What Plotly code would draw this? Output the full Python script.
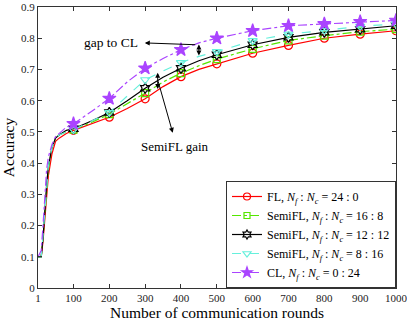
import plotly.graph_objects as go

# rounds at which values were read
rounds = [1, 10, 15, 20, 25, 30, 40, 50, 60, 80, 100, 150, 200, 250, 300,
          350, 400, 450, 500, 600, 700, 800, 900, 1000]

acc_fl = [0.1, 0.1, 0.15, 0.22, 0.30, 0.36, 0.43, 0.47, 0.48, 0.495, 0.505, 0.525,
          0.547, 0.575, 0.606, 0.645, 0.677, 0.70, 0.718, 0.752, 0.777, 0.800, 0.813, 0.824]
acc_semi_16_8 = [0.1, 0.1, 0.16, 0.24, 0.32, 0.38, 0.45, 0.48, 0.49, 0.50, 0.507, 0.53,
                 0.557, 0.59, 0.624, 0.66, 0.688, 0.712, 0.733, 0.766, 0.793, 0.808, 0.821, 0.829]
acc_semi_12_12 = [0.1, 0.1, 0.16, 0.25, 0.33, 0.39, 0.45, 0.48, 0.49, 0.505, 0.51, 0.535,
                  0.562, 0.60, 0.64, 0.675, 0.704, 0.728, 0.747, 0.779, 0.803, 0.819, 0.829, 0.840]
acc_semi_8_16 = [0.1, 0.1, 0.17, 0.25, 0.33, 0.39, 0.45, 0.48, 0.49, 0.50, 0.507, 0.535,
                 0.562, 0.615, 0.667, 0.695, 0.722, 0.742, 0.757, 0.792, 0.813, 0.825, 0.838, 0.846]
acc_cl = [0.1, 0.12, 0.20, 0.30, 0.38, 0.42, 0.46, 0.485, 0.495, 0.515, 0.526, 0.565,
          0.607, 0.66, 0.704, 0.735, 0.763, 0.785, 0.80, 0.824, 0.840, 0.846, 0.853, 0.857]

ratio = "<i>N<sub>f</sub></i>&nbsp;:&nbsp;<i>N<sub>c</sub></i>&nbsp;=&nbsp;"
names = ["FL, " + ratio + "24&nbsp;:&nbsp;0",
         "SemiFL, " + ratio + "16&nbsp;:&nbsp;8",
         "SemiFL, " + ratio + "12&nbsp;:&nbsp;12",
         "SemiFL, " + ratio + "8&nbsp;:&nbsp;16",
         "CL, " + ratio + "0&nbsp;:&nbsp;24"]

series = [acc_fl, acc_semi_16_8, acc_semi_12_12, acc_semi_8_16, acc_cl]
colors = ["#ff0000", "#55e600", "#000000", "#66f0dc", "#aa44ff"]
dashes = ["solid", "dashdot", "solid", "dash", "dashdot"]
symbols = ["circle-open", "square-open", "hexagram-open", "triangle-down-open", "star"]
msizes = [8, 7, 8, 8, 10]
leg_sizes = [7, 6, 7, 7, 8]

fig = go.Figure()
for ys, name, c, d, s, ms, ls in zip(series, names, colors, dashes, symbols, msizes, leg_sizes):
    fig.add_trace(go.Scatter(x=rounds, y=ys, mode="lines", showlegend=False,
                             line=dict(color=c, width=1.2, dash=d)))
    mx = [r for r in rounds if r % 100 == 0]
    my = [v for r, v in zip(rounds, ys) if r % 100 == 0]
    fig.add_trace(go.Scatter(x=mx, y=my, mode="markers", showlegend=False,
                             marker=dict(symbol=s, size=ms, color=c, line=dict(color=c, width=1.2))))
    # legend entry
    fig.add_trace(go.Scatter(x=[None], y=[None], mode="lines+markers", name=name,
                             line=dict(color=c, width=1.2, dash=d),
                             marker=dict(symbol=s, size=ls, color=c, line=dict(color=c, width=1.2))))

arrow = dict(xref="x", yref="y", axref="x", ayref="y", text="", showarrow=True,
             arrowhead=2, arrowsize=1, arrowwidth=1, arrowcolor="black")
fig.add_annotation(x=450, y=0.745, ax=450, ay=0.785, arrowside="end+start", **arrow)
fig.add_annotation(x=299, y=0.785, ax=444, ay=0.779, **arrow)
fig.add_annotation(x=335, y=0.637, ax=335, ay=0.694, arrowside="end+start", **arrow)
fig.add_annotation(x=377, y=0.497, ax=335, ay=0.667, **arrow)
fig.add_annotation(x=204, y=0.785, text="gap to CL", showarrow=False,
                   font=dict(size=13.5, color="black"))
fig.add_annotation(x=383, y=0.452, text="SemiFL gain", showarrow=False,
                   font=dict(size=13, color="black"))

axis = dict(showline=True, linecolor="#333333", linewidth=1, mirror="ticks",
            ticks="inside", ticklen=4, tickcolor="#333333", showgrid=False,
            zeroline=False, ticklabeloverflow="allow", automargin=False,
            tickfont=dict(size=11, color="#222222"))

fig.update_layout(
    width=407, height=321,
    margin=dict(l=38, r=11, t=7, b=33),
    paper_bgcolor="white", plot_bgcolor="white",
    font=dict(family="Liberation Serif", color="black", size=12),
    xaxis=dict(range=[1, 1000], tickvals=[1, 100, 200, 300, 400, 500, 600, 700, 800, 900, 1000],
               title=dict(text="Number of communication rounds", font=dict(size=15.5), standoff=0),
               **axis),
    yaxis=dict(range=[0, 0.9], dtick=0.1, tick0=0,
               title=dict(text="Accuracy", font=dict(size=15.5), standoff=3), **axis),
    legend=dict(x=1, xanchor="right", y=0, yanchor="bottom", bgcolor="white",
                bordercolor="#333333", borderwidth=1, font=dict(size=12),
                tracegroupgap=0, itemwidth=30),
)

fig.write_html("out.html", config={"displayModeBar": False},
               post_script="document.body.style.margin='0';document.body.style.overflow='hidden';")
